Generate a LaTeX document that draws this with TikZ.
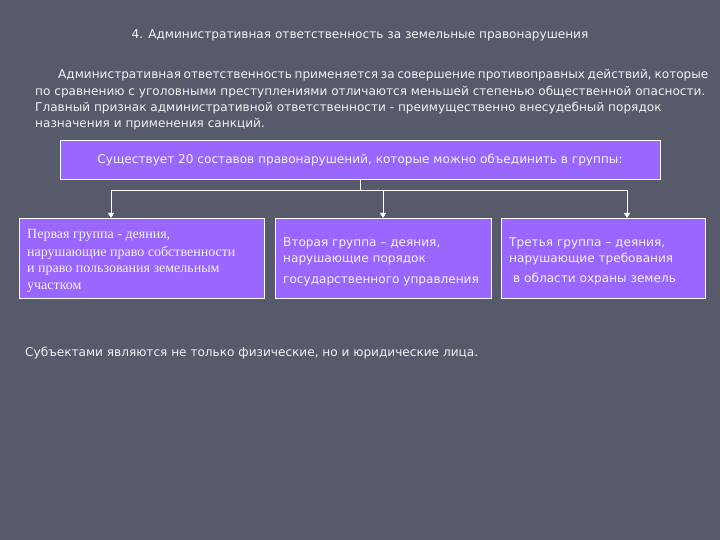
\documentclass[tikz,border=0pt]{standalone}
\usepackage{fontspec}
\setmainfont{DejaVu Sans}
\newfontfamily\serifcyr{Liberation Serif}
\usetikzlibrary{arrows.meta}
\definecolor{bg}{HTML}{565A6B}
\definecolor{boxfill}{HTML}{9966FF}
\definecolor{txt}{HTML}{F2F2F2}
\begin{document}
\begin{tikzpicture}[x=1pt,y=-1pt,
  tline/.style={anchor=base west, inner sep=0pt, text=txt, font=\fontsize{12.1}{14}\selectfont},
  sline/.style={anchor=base west, inner sep=0pt, text=txt, font=\serifcyr\fontsize{14}{16}\selectfont},
  pbox/.style={draw=white, line width=1.1pt, fill=boxfill, inner sep=0pt, anchor=north west},
  conn/.style={draw=white, line width=0.9pt},
  arr/.style={conn, -{Triangle[width=6pt,length=5pt]}}]
\fill[bg] (0,0) rectangle (720,540);
\useasboundingbox (0,0) rectangle (720,540);
% title
\node[tline, anchor=base] (title) at (360,39) {4. Административная ответственность за земельные правонарушения};
% paragraph
\node[tline] (p1) at (58,79) {\hbox to 650pt{Административная ответственность применяется за совершение противоправных действий, которые}};
\node[tline] (p2) at (35,96) {по сравнению с уголовными преступлениями отличаются меньшей степенью общественной опасности.};
\node[tline] (p3) at (35,112) {Главный признак административной ответственности - преимущественно внесудебный порядок};
\node[tline] (p4) at (35,128) {назначения и применения санкций.};
% top box
\node[pbox, minimum width=600pt, minimum height=39pt] (top) at (60,140) {};
\node[tline, anchor=base] (toptxt) at (360,164) {Существует 20 составов правонарушений, которые можно объединить в группы:};
% group boxes
\node[pbox, minimum width=245pt, minimum height=80pt] (g1) at (19,218) {};
\node[pbox, minimum width=216pt, minimum height=80pt] (g2) at (275,218) {};
\node[pbox, minimum width=204pt, minimum height=80pt] (g3) at (501,218) {};
% connectors
\coordinate (j) at (360,190);
\coordinate (a1) at (111,190);
\coordinate (a2) at (383,190);
\coordinate (a3) at (627,190);
\draw[conn] (top.south -| j) -- (j);
\draw[conn] (a1) -- (a3);
\draw[arr] (a1) -- (a1 |- g1.north);
\draw[arr] (a2) -- (a2 |- g2.north);
\draw[arr] (a3) -- (a3 |- g3.north);
% group 1 text
\node[sline] (g1a) at (27,239) {Первая группа -  деяния,};
\node[sline] (g1b) at (27,256) {нарушающие право собственности};
\node[sline] (g1c) at (27,272) {и право  пользования земельным};
\node[sline] (g1d) at (27,289) {участком};
% group 2 text
\node[tline] (g2a) at (283,246) {Вторая группа – деяния,};
\node[tline] (g2b) at (283,262) {нарушающие порядок};
\node[tline] (g2c) at (283,283) {государственного управления};
% group 3 text
\node[tline] (g3a) at (509,246) {Третья группа – деяния,};
\node[tline] (g3b) at (509,262) {нарушающие требования};
\node[tline] (g3c) at (513,282) {в области охраны земель};
% bottom
\node[tline] (subj) at (25,356) {Субъектами являются не только физические, но и юридические лица.};
\end{tikzpicture}
\end{document}
